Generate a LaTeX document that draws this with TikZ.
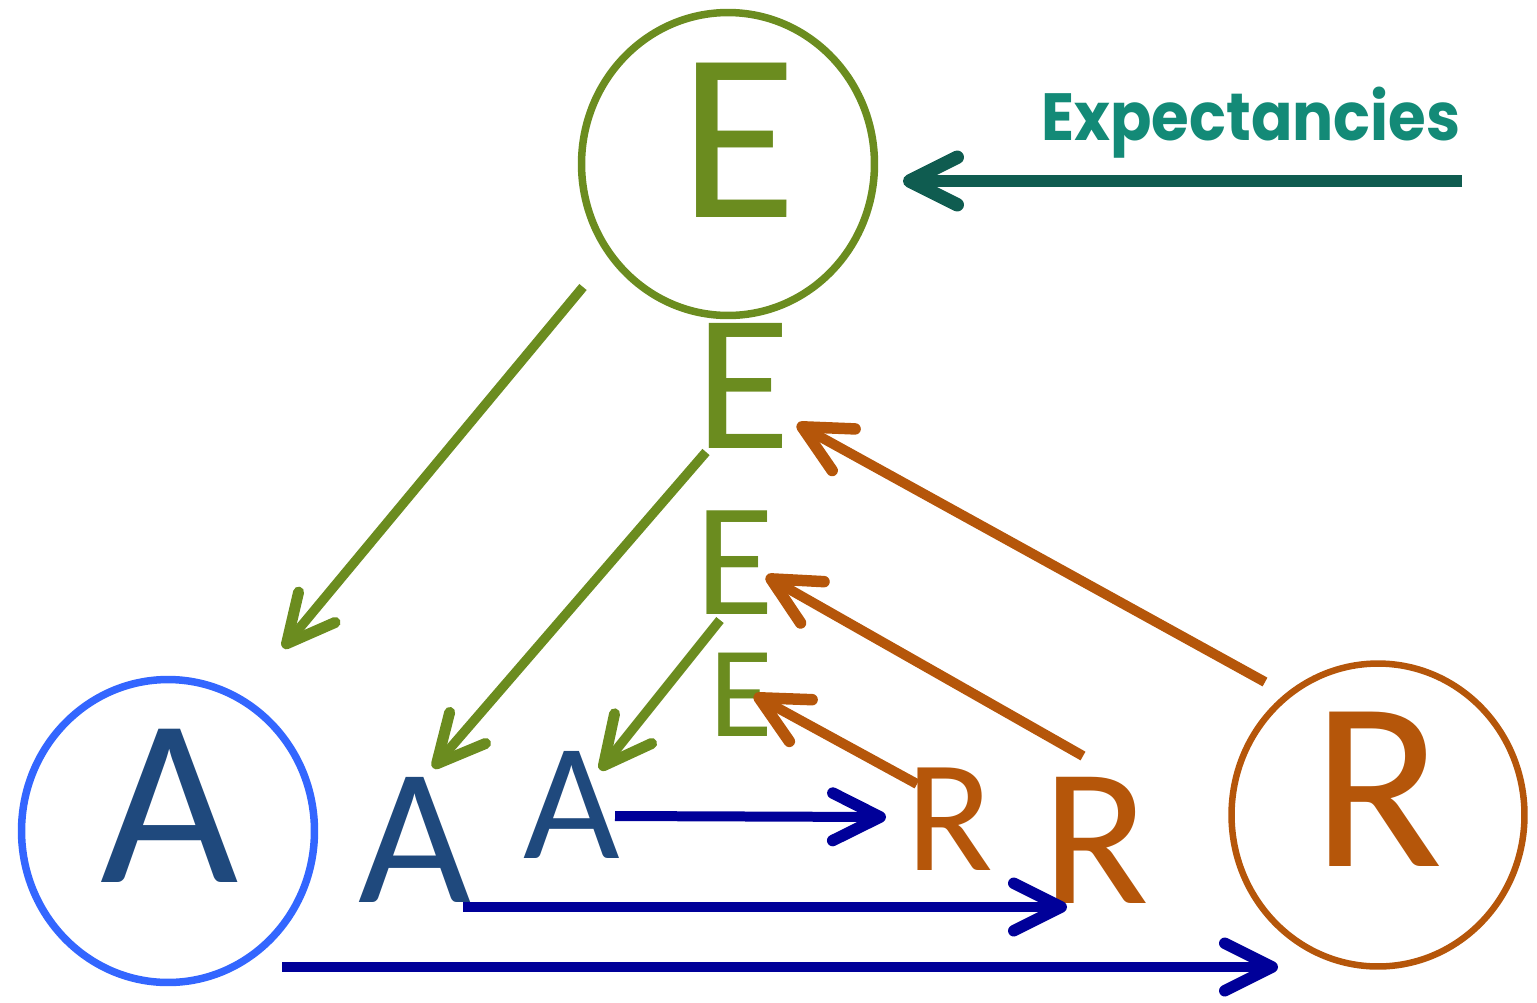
\documentclass[tikz,border=0pt]{standalone}
\usepackage{fontspec}
\newfontfamily\carl{Carlito}
\newfontfamily\popf[FakeStretch=0.915]{Poppins}
\usetikzlibrary{arrows.meta,shapes.geometric}
\definecolor{egreen}{RGB}{107,140,31}
\definecolor{ablue}{RGB}{31,73,125}
\definecolor{acirc}{RGB}{51,102,255}
\definecolor{rorange}{RGB}{181,86,10}
\definecolor{exptext}{RGB}{19,138,119}
\definecolor{exparrow}{RGB}{15,92,80}
\definecolor{navyarrow}{RGB}{0,0,153}
\tikzset{
  bigring/.style={draw, ellipse, line width=0.15cm, minimum width=5.86cm, minimum height=6.06cm, inner sep=0pt},
  letter/.style={anchor=base, inner sep=0pt, font=\carl},
  barb/.style={-{Straight Barb[length=0.95cm, width=0.95cm, round, line width=0.03cm 1]}, line cap=butt},
}
\begin{document}
\begin{tikzpicture}[x=0.02cm, y=-0.02cm]
\useasboundingbox (0,0) rectangle (1537,1002);
% rings
\node[bigring, draw=egreen] (Ering) at (728,164) {};
\node[bigring, draw=acirc] (Aring) at (168,831) {};
\node[bigring, draw=rorange, line width=0.13cm] (Rring) at (1378,815) {};
% letters
\node[letter, text=egreen, font=\carl\fontsize{137pt}{137pt}\selectfont] (E1) at (738,217) {E};
\node[letter, text=ablue, font=\carl\fontsize{136pt}{136pt}\selectfont] (A1) at (170,882) {A};
\node[letter, text=rorange, font=\carl\fontsize{137pt}{137pt}\selectfont] (R1) at (1378,866) {R};
\node[letter, text=egreen, font=\carl\fontsize{111pt}{111pt}\selectfont] (E2) at (743,448) {E};
\node[letter, text=egreen, font=\carl\fontsize{92pt}{92pt}\selectfont] (E3) at (735,614) {E};
\node[letter, text=egreen, font=\carl\fontsize{74pt}{74pt}\selectfont] (E4) at (741,736) {E};
\node[letter, text=ablue, font=\carl\fontsize{111pt}{111pt}\selectfont] (A2) at (415,902) {A};
\node[letter, text=ablue, font=\carl\fontsize{95pt}{95pt}\selectfont] (A3) at (572,858) {A};
\node[letter, text=rorange, font=\carl\fontsize{91pt}{91pt}\selectfont] (R3) at (950,870) {R};
\node[letter, text=rorange, font=\carl\fontsize{112pt}{112pt}\selectfont] (R2) at (1096,903) {R};
\node[anchor=base west, inner sep=0pt, text=exptext, font=\popf\bfseries\fontsize{38pt}{38pt}\selectfont] (Exp) at (1041,140) {Expectancies};
% connector endpoints
\coordinate (xs) at (1462,181); \coordinate (xt) at (903,181);
\coordinate (g1s) at (583,287); \coordinate (g1t) at (283,648);
\coordinate (g2s) at (706,452); \coordinate (g2t) at (433,768);
\coordinate (g3s) at (720,620); \coordinate (g3t) at (600,770);
\coordinate (o1s) at (1265,682); \coordinate (o1t) at (797,424);
\coordinate (o2s) at (1083,756); \coordinate (o2t) at (766,576);
\coordinate (o3s) at (917,784); \coordinate (o3t) at (754,695);
\coordinate (b1s) at (615,816); \coordinate (b1t) at (886,817);
\coordinate (b2s) at (463,907); \coordinate (b2t) at (1067,907);
\coordinate (b3s) at (282,967); \coordinate (b3t) at (1278,967);
% connectors
\draw[barb, exparrow, line width=0.24cm] (xs) -- (xt);
\draw[barb, egreen, line width=0.19cm] (g1s) -- (g1t);
\draw[barb, egreen, line width=0.19cm] (g2s) -- (g2t);
\draw[barb, egreen, line width=0.19cm] (g3s) -- (g3t);
\draw[barb, rorange, line width=0.2cm] (o1s) -- (o1t);
\draw[barb, rorange, line width=0.2cm] (o2s) -- (o2t);
\draw[barb, rorange, line width=0.2cm] (o3s) -- (o3t);
\draw[barb, navyarrow, line width=0.2cm] (b1s) -- (b1t);
\draw[barb, navyarrow, line width=0.2cm] (b2s) -- (b2t);
\draw[barb, navyarrow, line width=0.2cm] (b3s) -- (b3t);
\end{tikzpicture}
\end{document}
